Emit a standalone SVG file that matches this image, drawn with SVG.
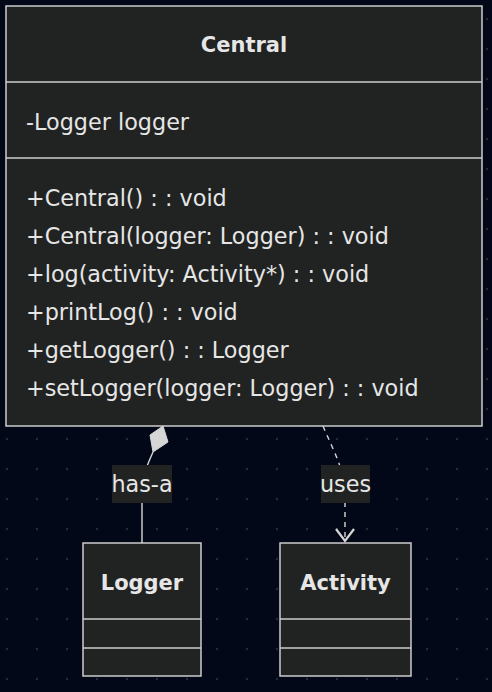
<svg xmlns="http://www.w3.org/2000/svg" width="492" height="692" viewBox="0 0 492 692">
<defs>
<pattern id="dots" x="0" y="0" width="30" height="30" patternUnits="userSpaceOnUse">
<circle cx="7" cy="19" r="1.2" fill="#252a38"/>
</pattern>
</defs>
<style>
.box{fill:#212222;stroke:#cccccc;stroke-width:1.5}
.div{stroke:#cccccc;stroke-width:1.5}
.t{font-family:"DejaVu Sans","Noto Sans",sans-serif;font-size:22.3px;fill:#e6e6e6}
.b{font-weight:bold;text-anchor:middle;font-size:21px}
.edge{fill:none;stroke:#d6d6d6;stroke-width:1.4}
.lbl{fill:#212222}
</style>
<rect width="492" height="692" fill="#020817"/>
<rect width="492" height="692" fill="url(#dots)"/>
<g id="Central">
<rect class="box" x="6" y="6" width="476" height="420"/>
<line class="div" x1="6" y1="82" x2="482" y2="82"/>
<line class="div" x1="6" y1="158" x2="482" y2="158"/>
<text class="t b" x="244" y="52">Central</text>
<text class="t" x="26" y="130">-Logger logger</text>
<text class="t" x="26" y="206">+Central() : : void</text>
<text class="t" x="26" y="244">+Central(logger: Logger) : : void</text>
<text class="t" x="26" y="282">+log(activity: Activity*) : : void</text>
<text class="t" x="26" y="320">+printLog() : : void</text>
<text class="t" x="26" y="358">+getLogger() : : Logger</text>
<text class="t" x="26" y="396">+setLogger(logger: Logger) : : void</text>
</g>
<g id="Logger">
<rect class="box" x="83" y="543" width="118" height="133"/>
<line class="div" x1="83" y1="619" x2="201" y2="619"/>
<line class="div" x1="83" y1="648" x2="201" y2="648"/>
<text class="t b" x="142" y="590">Logger</text>
</g>
<g id="Activity">
<rect class="box" x="280" y="543" width="131" height="133"/>
<line class="div" x1="280" y1="619" x2="411" y2="619"/>
<line class="div" x1="280" y1="648" x2="411" y2="648"/>
<text class="t b" x="345.5" y="590">Activity</text>
</g>
<g id="connectors">
<path class="edge" d="M153,452 C147,466 142,476 142,490 L142,543"/>
<polygon points="163,426 168,442 153,452 150,435" fill="#d6d6d6" stroke="#d6d6d6" stroke-width="1"/>
<path class="edge" d="M323,426 C333,450 345,470 345,495 L345,541" stroke-dasharray="5,5"/>
<polyline points="336,529 345,541 354,529" fill="none" stroke="#d6d6d6" stroke-width="2.2"/>
<rect class="lbl" x="112" y="465" width="60" height="38"/>
<text class="t" x="142" y="492" text-anchor="middle">has-a</text>
<rect class="lbl" x="321" y="465" width="49" height="38"/>
<text class="t" x="345.5" y="492" text-anchor="middle">uses</text>
</g>
</svg>
